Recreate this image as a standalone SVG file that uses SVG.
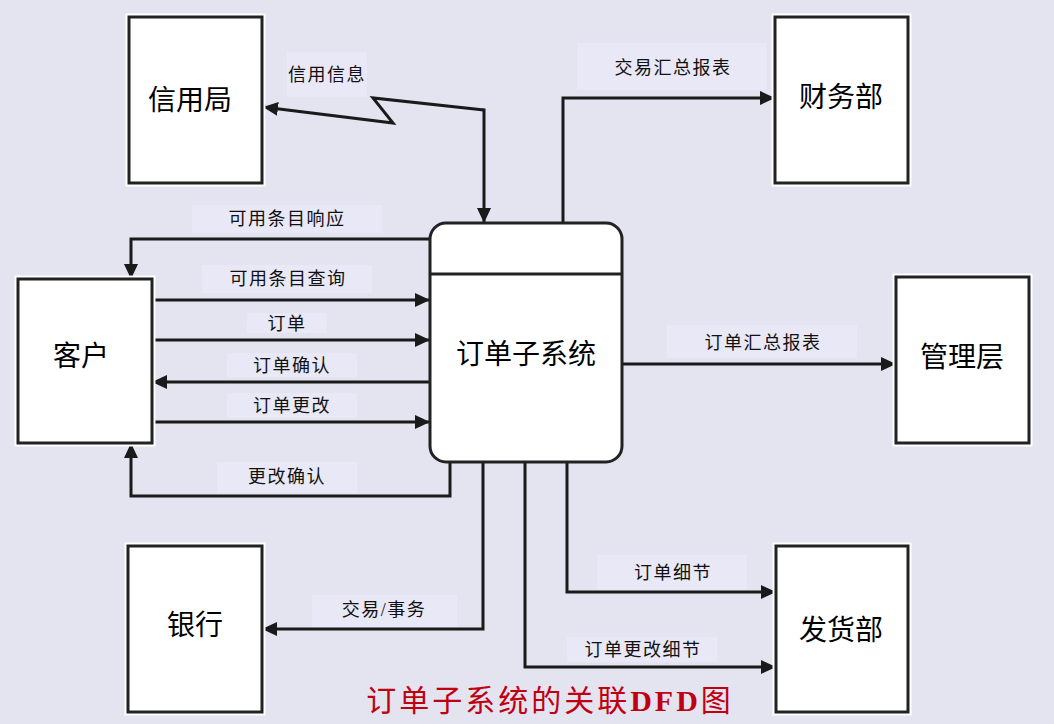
<svg xmlns="http://www.w3.org/2000/svg" width="1054" height="724" viewBox="0 0 1054 724">
<defs>
<style>
.bg{fill:#e3e4f0}
.box{fill:#ffffff;stroke:#222222;stroke-width:3}
.halo{fill:none;stroke:#ffffff;stroke-width:7}
.node-text{font-family:"Liberation Serif","Noto Sans CJK SC",serif;font-size:28px;fill:#000000;text-anchor:middle;dominant-baseline:central}
.flow{fill:none;stroke:#1a1a1a;stroke-width:3;stroke-linejoin:miter}
.lbl-bg{fill:#e8e8f6}
.lbl{font-family:"Liberation Serif","Noto Sans CJK SC",serif;font-size:18px;letter-spacing:1.5px;fill:#111111;text-anchor:middle;dominant-baseline:central}
.title{font-family:"Liberation Serif","Noto Sans CJK SC",serif;font-size:30px;letter-spacing:3px;fill:#c00010;text-anchor:middle;dominant-baseline:central}
</style>
<marker id="arr" markerUnits="userSpaceOnUse" markerWidth="16" markerHeight="14" refX="15" refY="7" orient="auto">
<path d="M0,0 L15,7 L0,14 z" fill="#1a1a1a"/>
</marker>
</defs>
<rect class="bg" x="0" y="0" width="1054" height="724"/>

<g id="labels-bg">
<rect class="lbl-bg" x="287" y="52" width="80" height="45"/>
<rect class="lbl-bg" x="577" y="43" width="190" height="47"/>
<rect class="lbl-bg" x="192" y="205" width="190" height="28"/>
<rect class="lbl-bg" x="202" y="265" width="170" height="28"/>
<rect class="lbl-bg" x="247" y="313" width="80" height="20"/>
<rect class="lbl-bg" x="227" y="353" width="130" height="24"/>
<rect class="lbl-bg" x="227" y="393" width="130" height="25"/>
<rect class="lbl-bg" x="217" y="462" width="140" height="31"/>
<rect class="lbl-bg" x="312" y="595" width="145" height="32"/>
<rect class="lbl-bg" x="597" y="555" width="150" height="35"/>
<rect class="lbl-bg" x="567" y="637" width="150" height="25"/>
<rect class="lbl-bg" x="667" y="325" width="190" height="33"/>
</g>

<g id="connectors">
<path class="flow" d="M484,110 L373,98 L393,123 L263,107" marker-end="url(#arr)"/>
<path class="flow" d="M484,108.5 L484,223" marker-end="url(#arr)"/>
<path class="flow" d="M563,223 L563,98 L775,98" marker-end="url(#arr)"/>
<path class="flow" d="M430,239 L131,239 L131,279" marker-end="url(#arr)"/>
<path class="flow" d="M152,300 L430,300" marker-end="url(#arr)"/>
<path class="flow" d="M152,340 L430,340" marker-end="url(#arr)"/>
<path class="flow" d="M430,382 L152,382" marker-end="url(#arr)"/>
<path class="flow" d="M152,422 L430,422" marker-end="url(#arr)"/>
<path class="flow" d="M450,462 L450,496 L131,496 L131,443" marker-end="url(#arr)"/>
<path class="flow" d="M483,462 L483,629 L262,629" marker-end="url(#arr)"/>
<path class="flow" d="M567,462 L567,592 L776,592" marker-end="url(#arr)"/>
<path class="flow" d="M525,462 L525,667 L776,667" marker-end="url(#arr)"/>
<path class="flow" d="M622,364 L896,364" marker-end="url(#arr)"/>
</g>

<g id="labels">
<text class="lbl" x="327" y="75">信用信息</text>
<text class="lbl" x="673" y="68">交易汇总报表</text>
<text class="lbl" x="287" y="219">可用条目响应</text>
<text class="lbl" x="288" y="279">可用条目查询</text>
<text class="lbl" x="287" y="324">订单</text>
<text class="lbl" x="292" y="366">订单确认</text>
<text class="lbl" x="292" y="406">订单更改</text>
<text class="lbl" x="287" y="477">更改确认</text>
<text class="lbl" x="384" y="610">交易/事务</text>
<text class="lbl" x="673" y="573">订单细节</text>
<text class="lbl" x="643" y="650">订单更改细节</text>
<text class="lbl" x="763" y="343">订单汇总报表</text>
</g>

<g id="node-credit">
<rect class="halo" x="129" y="17" width="133" height="166"/>
<rect class="box" x="129" y="17" width="133" height="166"/>
<text class="node-text" x="190" y="100">信用局</text>
</g>
<g id="node-finance">
<rect class="halo" x="775" y="17" width="133" height="166"/>
<rect class="box" x="775" y="17" width="133" height="166"/>
<text class="node-text" x="841" y="97">财务部</text>
</g>
<g id="node-customer">
<rect class="halo" x="18" y="279" width="134" height="164"/>
<rect class="box" x="18" y="279" width="134" height="164"/>
<text class="node-text" x="81" y="356">客户</text>
</g>
<g id="node-order-subsystem">
<rect class="box" x="430" y="223" width="192" height="239" rx="16" ry="16"/>
<line x1="430" y1="274" x2="622" y2="274" stroke="#222222" stroke-width="3"/>
<text class="node-text" x="526" y="354">订单子系统</text>
</g>
<g id="node-management">
<rect class="halo" x="896" y="277" width="133" height="166"/>
<rect class="box" x="896" y="277" width="133" height="166"/>
<text class="node-text" x="962" y="357">管理层</text>
</g>
<g id="node-bank">
<rect class="halo" x="128" y="546" width="134" height="166"/>
<rect class="box" x="128" y="546" width="134" height="166"/>
<text class="node-text" x="195" y="625">银行</text>
</g>
<g id="node-shipping">
<rect class="halo" x="776" y="546" width="132" height="166"/>
<rect class="box" x="776" y="546" width="132" height="166"/>
<text class="node-text" x="841" y="630">发货部</text>
</g>

<text class="title" x="550" y="700">订单子系统的关联<tspan font-weight="bold" font-family="'Liberation Serif',serif">DFD</tspan>图</text>
</svg>
